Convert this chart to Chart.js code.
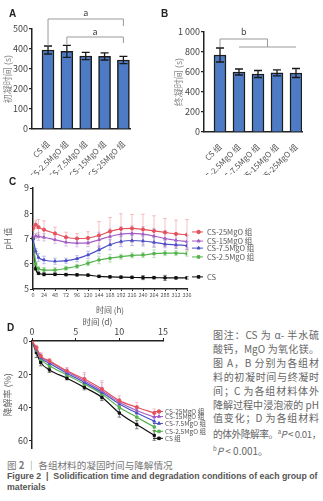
<!DOCTYPE html>
<html>
<head>
<meta charset="utf-8">
<script src="https://cdn.jsdelivr.net/npm/chart.js@4"></script>
<style>
body { margin: 0; width: 323px; height: 501px; background: #fff; position: relative; overflow: hidden; font-family: "Noto Sans CJK SC", "Noto Sans", sans-serif; }
.box { position: absolute; }
.tag { position: absolute; font: bold 10px "Liberation Sans", sans-serif; color: #222; }
.note { position: absolute; left: 213px; top: 328px; width: 106px; font-size: 10px; line-height: 13.9px; color: #666; }
.note div { text-align: justify; text-align-last: justify; white-space: nowrap; }
.note div.tight { letter-spacing: -0.45px; font-size: 9.7px; }
.note div.last { text-align-last: left; }
.cap1 { position: absolute; left: 7px; top: 458px; font-size: 9.6px; color: #777; white-space: nowrap; }
.cap2 { position: absolute; left: 7px; top: 471px; font: bold 9px "Liberation Sans", sans-serif; color: #555; line-height: 11px; white-space: nowrap; transform-origin: 0 0; }
</style>
</head>
<body>
<div class="box" style="left:0;top:0;width:160px;height:175px"><canvas id="chartA"></canvas></div>
<div class="box" style="left:160px;top:0;width:163px;height:175px"><canvas id="chartB"></canvas></div>
<div class="box" style="left:0;top:175px;width:323px;height:140px"><canvas id="chartC"></canvas></div>
<div class="box" style="left:0;top:316px;width:210px;height:139px"><canvas id="chartD"></canvas></div>
<div class="tag" style="left:9px;top:8px">A</div>
<div class="tag" style="left:161px;top:8px">B</div>
<div class="tag" style="left:9px;top:176px">C</div>
<div class="tag" style="left:7px;top:322px">D</div>
<div class="note">
  <div>图注：CS 为 α- 半水硫</div>
  <div>酸钙，MgO 为氧化镁。</div>
  <div>图 A，B 分别为各组材</div>
  <div>料的初凝时间与终凝时</div>
  <div>间；C 为各组材料体外</div>
  <div>降解过程中浸泡液的 pH</div>
  <div>值变化；D 为各组材料</div>
  <div class="tight">的体外降解率。<sup style="font-size:6px">a</sup><i>P</i> &lt; 0.01，</div>
  <div class="last"><sup style="font-size:6px">b</sup><i>P</i> &lt; 0.001。</div>
</div>
<div class="cap1">图 <b>2</b> ｜ 各组材料的凝固时间与降解情况</div>
<div class="cap2" id="cap2">Figure 2 &nbsp;|&nbsp; Solidification time and degradation conditions of each group of<br>materials</div>
<script>
const FAMILY = '"Noto Sans CJK SC", "Noto Sans", sans-serif';
Chart.defaults.font.family = FAMILY;
Chart.defaults.color = '#555';
Chart.defaults.animation = false;

// A / B: setting times
const groups = ['CS 组', 'CS-2.5MgO 组', 'CS-7.5MgO 组', 'CS-15MgO 组', 'CS-25MgO 组'];
const initialSet = [395, 388, 365, 363, 345];
const initialSetErr = [20, 30, 18, 18, 18];
const finalSet = [770, 600, 580, 592, 590];
const finalSetErr = [70, 30, 35, 30, 45];

// C: pH of soaking solution
const hours = [0, 6, 12, 24, 48, 72, 96, 120, 144, 168, 192, 216, 240, 264, 288, 312, 336];
const ph25 = [7.4, 7.55, 7.45, 7.35, 7.2, 7.05, 7.0, 7.02, 7.12, 7.28, 7.38, 7.4, 7.36, 7.3, 7.24, 7.18, 7.15];
const ph15 = [7.05, 7.1, 7.08, 7.05, 6.95, 6.85, 6.82, 6.83, 6.95, 7.08, 7.17, 7.2, 7.17, 7.1, 7.0, 6.93, 6.88];
const ph75 = [7.0, 6.5, 6.25, 6.15, 6.1, 6.12, 6.2, 6.35, 6.55, 6.75, 6.88, 6.92, 6.9, 6.85, 6.78, 6.75, 6.72];
const ph25low = [7.0, 6.0, 5.8, 5.75, 5.75, 5.82, 5.9, 6.02, 6.15, 6.22, 6.28, 6.33, 6.35, 6.4, 6.42, 6.42, 6.4];
const phCS = [7.0, 5.8, 5.62, 5.58, 5.58, 5.57, 5.56, 5.55, 5.5, 5.48, 5.47, 5.46, 5.45, 5.45, 5.44, 5.44, 5.44];
const ph25Err = [0.1, 0.15, 0.3, 0.35, 0.25, 0.2, 0.2, 0.25, 0.55, 0.55, 0.6, 0.55, 0.6, 0.6, 0.55, 0.55, 0.6];
const ph15Err = [0.05, 0.1, 0.15, 0.15, 0.15, 0.15, 0.15, 0.15, 0.3, 0.3, 0.3, 0.3, 0.3, 0.3, 0.3, 0.25, 0.25];
const ph75Err = [0.05, 0.1, 0.15, 0.15, 0.12, 0.1, 0.12, 0.15, 0.15, 0.2, 0.2, 0.2, 0.2, 0.2, 0.15, 0.15, 0.15];
const ph25lowErr = [0.05, 0.1, 0.1, 0.1, 0.1, 0.08, 0.08, 0.1, 0.15, 0.15, 0.1, 0.1, 0.1, 0.15, 0.1, 0.1, 0.1];
const phCSErr = [0.05, 0.05, 0.05, 0.06, 0.05, 0.05, 0.05, 0.05, 0.05, 0.05, 0.05, 0.05, 0.08, 0.05, 0.1, 0.05, 0.05];

// D: degradation rate
const days = [0, 0.5, 1, 2, 4, 6, 8, 10, 12, 14];
const deg25 = [0, 4, 9, 12, 18, 23, 29, 36, 40, 43.5];
const deg15 = [0, 4.5, 9.5, 12.5, 18.5, 24, 30, 37, 42, 46];
const deg75 = [0, 5, 10, 13.5, 19.5, 25, 31, 38, 43.5, 48.5];
const deg25low = [0, 5.5, 11, 15, 20.5, 26, 32, 40, 46, 52];
const degCS = [0, 7, 13, 17.5, 22.5, 28, 34, 43.5, 50.5, 57];
const deg25Err = [0, 1.5, 2, 1.5, 2, 4, 5, 3, 3, 2.5];
const deg15Err = [0, 1.5, 2, 1.5, 2, 4, 5, 2.5, 2.5, 2.5];
const deg75Err = [0, 1.5, 2, 1.5, 1.5, 3, 3, 2.5, 2.5, 2.5];
const deg25lowErr = [0, 2, 2, 1.5, 1.5, 2.5, 3, 3, 3, 3];
const degCSErr = [0, 3, 2, 1.5, 1, 1.5, 2, 2.5, 2.5, 3];

const RED = '#E5525C', PURPLE = '#A45EC6', BLUE = '#4C50C8', GREEN = '#55B44D', BLACK = '#111';

function drawErrors(chart) {
    const ctx = chart.ctx;
    chart.data.datasets.forEach((ds, di) => {
        if (!ds.errors) return;
        const meta = chart.getDatasetMeta(di);
        const ys = chart.scales[meta.yAxisID];
        ctx.save();
        ctx.strokeStyle = ds.errorColor || '#111';
        ctx.lineWidth = ds.errorWidth || 1;
        meta.data.forEach((el, i) => {
            const v = ds.data[i].y;
            const e = ds.errors[i];
            if (!e) return;
            const top = ys.getPixelForValue(v + e), bot = ys.getPixelForValue(v - e);
            const cap = ds.errorCap || 2;
            ctx.beginPath();
            ctx.moveTo(el.x, top); ctx.lineTo(el.x, bot);
            ctx.moveTo(el.x - cap, top); ctx.lineTo(el.x + cap, top);
            ctx.moveTo(el.x - cap, bot); ctx.lineTo(el.x + cap, bot);
            ctx.stroke();
        });
        ctx.restore();
    });
}

const errorBars = {
    id: 'errorBars',
    beforeDatasetsDraw(chart) { if (chart.config.type === 'line') drawErrors(chart); },
    afterDatasetsDraw(chart) { if (chart.config.type === 'bar') drawErrors(chart); }
};

// significance brackets, given in data units
const brackets = {
    id: 'brackets',
    afterDraw(chart, args, o) {
        if (!o.lines) return;
        const {ctx, scales: {x, y}} = chart;
        ctx.save();
        ctx.strokeStyle = '#999';
        ctx.lineWidth = 1;
        for (const line of o.lines) {
            ctx.beginPath();
            line.forEach(([px, py], i) => {
                const X = x.getPixelForValue(px), Y = y.getPixelForValue(py);
                if (i === 0) ctx.moveTo(X, Y); else ctx.lineTo(X, Y);
            });
            ctx.stroke();
        }
        ctx.fillStyle = '#444';
        ctx.font = '9px ' + FAMILY;
        ctx.textAlign = 'center';
        ctx.textBaseline = 'middle';
        for (const [t, px, py] of o.texts) ctx.fillText(t, x.getPixelForValue(px), y.getPixelForValue(py));
        ctx.restore();
    }
};

const sideLegend = {
    id: 'sideLegend',
    afterDraw(chart, args, o) {
        if (!o.at) return;
        const {ctx, chartArea} = chart;
        const ys = chart.scales.y;
        ctx.save();
        ctx.font = o.size + 'px ' + FAMILY;
        ctx.textBaseline = 'middle';
        chart.data.datasets.forEach((ds, i) => {
            const y = ys.getPixelForValue(o.at[i]);
            const x0 = chartArea.right + o.offset;
            ctx.strokeStyle = ds.borderColor;
            ctx.fillStyle = ds.borderColor;
            ctx.lineWidth = 1;
            ctx.beginPath(); ctx.moveTo(x0, y); ctx.lineTo(x0 + o.len, y); ctx.stroke();
            Chart.helpers.drawPoint(ctx, {pointStyle: ds.pointStyle, radius: 1.8, rotation: 0, borderWidth: 1}, x0 + o.len * 0.6, y);
            ctx.fillStyle = '#555';
            ctx.fillText(ds.label, x0 + o.len + o.gap, y);
        });
        ctx.restore();
    }
};

Chart.register(errorBars, brackets, sideLegend);

function buildBarChart(id, values, errors, o) {
    new Chart(document.getElementById(id), {
        type: 'bar',
        data: {
            datasets: [{
                data: values.map((v, i) => ({x: i, y: v})),
                errors,
                errorColor: '#1a1a1a',
                errorWidth: 1.3,
                errorCap: 4,
                backgroundColor: '#4E7BC6',
                borderColor: '#1c1c1c',
                borderWidth: 1.5,
                barThickness: 12
            }]
        },
        options: {
            responsive: true,
            maintainAspectRatio: false,
            layout: {padding: {top: o.top, right: o.right, left: 0, bottom: 0}},
            plugins: {
                legend: {display: false},
                tooltip: {enabled: false},
                brackets: o.brackets
            },
            scales: {
                x: {
                    type: 'linear',
                    min: o.xmin, max: o.xmax,
                    offset: false,
                    grid: {display: false, offset: false},
                    border: {color: '#222', width: 1.5},
                    afterBuildTicks: s => { s.ticks = groups.map((_, i) => ({value: i})); },
                    afterFit: s => { s.height = o.bottom; },
                    ticks: {
                        autoSkip: false, minRotation: 45, maxRotation: 45, padding: 2,
                        font: {size: 8}, color: '#555',
                        callback: v => groups[v]
                    }
                },
                y: {
                    min: 0, max: o.ymax,
                    afterFit: s => { s.width = o.axisWidth; },
                    grid: {drawOnChartArea: false, drawTicks: true, tickLength: 3, color: '#222', lineWidth: 1.2},
                    border: {color: '#222', width: 1.5},
                    ticks: {stepSize: o.step, font: {size: 9}, color: '#444', padding: 1,
                        callback: v => v >= 1000 ? '1 000' : v},
                    title: {display: true, text: o.title, color: '#888', font: {size: 9}, padding: {top: o.titlePad, bottom: 0}}
                }
            }
        }
    });
}

buildBarChart('chartA', initialSet, initialSetErr, {
    top: 29, right: 30, bottom: 46, axisWidth: 32, xmin: -0.85, xmax: 4.35,
    ymax: 500, step: 100, title: '初凝时间 (s)', titlePad: 2,
    brackets: {
        lines: [[[0, 415], [0, 550], [4, 550], [4, 515]], [[1, 425], [1, 460], [4, 460], [4, 430]]],
        texts: [['a', 2, 580], ['a', 2.5, 485]]
    }
});

buildBarChart('chartB', finalSet, finalSetErr, {
    top: 32, right: 21, bottom: 43, axisWidth: 44, xmin: -0.842, xmax: 4.316,
    ymax: 1000, step: 200, title: '终凝时间 (s)', titlePad: 13,
    brackets: {
        lines: [[[0, 850], [0, 930], [2.5, 930], [2.5, 850]], [[1, 850], [4, 850]]],
        texts: [['b', 1.25, 1000]]
    }
});

function lineSet(label, xs, ys, errs, color, errColor, style) {
    return {
        label,
        data: xs.map((x, i) => ({x, y: ys[i]})),
        errors: errs,
        errorColor: errColor,
        errorWidth: 0.8,
        errorCap: 1.8,
        borderColor: color,
        backgroundColor: color,
        borderWidth: 1.2,
        pointStyle: style,
        pointRadius: 1.6,
        pointBorderWidth: 1,
        cubicInterpolationMode: 'monotone'
    };
}

new Chart(document.getElementById('chartC'), {
    type: 'line',
    data: {
        datasets: [
            lineSet('CS-25MgO 组', hours, ph25, ph25Err, RED, 'rgba(229,82,92,0.45)', 'circle'),
            lineSet('CS-15MgO 组', hours, ph15, ph15Err, PURPLE, 'rgba(164,94,198,0.45)', 'triangle'),
            lineSet('CS-7.5MgO 组', hours, ph75, ph75Err, BLUE, 'rgba(76,80,200,0.45)', 'triangle'),
            lineSet('CS-2.5MgO 组', hours, ph25low, ph25lowErr, GREEN, 'rgba(85,180,77,0.5)', 'rect'),
            lineSet('CS', hours, phCS, phCSErr, BLACK, 'rgba(0,0,0,0.6)', 'rect')
        ]
    },
    options: {
        responsive: true,
        maintainAspectRatio: false,
        layout: {padding: {top: 13, right: 136, left: 0, bottom: 0}},
        plugins: {
            legend: {display: false},
            tooltip: {enabled: false},
            sideLegend: {at: [7.26, 6.9, 6.62, 6.27, 5.48], offset: 5, len: 11, gap: 4, size: 7.5}
        },
        scales: {
            x: {
                type: 'linear', min: 0, max: 336,
                afterFit: s => { s.height = 26; },
                grid: {drawOnChartArea: false, drawTicks: true, tickLength: 2, color: '#222'},
                border: {color: '#222', width: 1.5},
                ticks: {stepSize: 24, font: {size: 5.5}, color: '#555', padding: 1, maxRotation: 0, autoSkip: false},
                title: {display: true, text: '时间 (h)', font: {size: 8}, color: '#555', padding: {top: 0, bottom: 0}}
            },
            y: {
                min: 5, max: 9,
                afterFit: s => { s.width = 33; },
                grid: {drawOnChartArea: false, drawTicks: true, tickLength: 3, color: '#222'},
                border: {color: '#222', width: 1.5},
                ticks: {stepSize: 1, font: {size: 9}, color: '#444', padding: 1},
                title: {display: true, text: 'pH 值', font: {size: 8.5}, color: '#666', padding: {top: 3, bottom: 0}}
            }
        }
    }
});

new Chart(document.getElementById('chartD'), {
    type: 'line',
    data: {
        datasets: [
            lineSet('CS-25MgO 组', days, deg25, deg25Err, RED, 'rgba(229,82,92,0.4)', 'circle'),
            lineSet('CS-15MgO 组', days, deg15, deg15Err, PURPLE, 'rgba(164,94,198,0.4)', 'triangle'),
            lineSet('CS-7.5MgO 组', days, deg75, deg75Err, BLUE, 'rgba(76,80,200,0.4)', 'triangle'),
            lineSet('CS-2.5MgO 组', days, deg25low, deg25lowErr, GREEN, 'rgba(85,180,77,0.45)', 'rect'),
            lineSet('CS 组', days, degCS, degCSErr, BLACK, 'rgba(0,0,0,0.6)', 'rect')
        ]
    },
    options: {
        responsive: true,
        maintainAspectRatio: false,
        layout: {padding: {top: 0, right: 47, left: 0, bottom: 5.6}},
        plugins: {
            legend: {display: false},
            tooltip: {enabled: false},
            sideLegend: {at: [42.6, 45.6, 49.8, 54.6, 58.8], offset: -10, len: 10, gap: 2, size: 6.5}
        },
        scales: {
            x: {
                type: 'linear', position: 'top', min: 0, max: 15,
                afterFit: s => { s.height = 25; },
                grid: {drawOnChartArea: false, drawTicks: true, tickLength: 3, color: '#222'},
                border: {color: '#222', width: 1.5},
                ticks: {stepSize: 5, font: {size: 9}, color: '#444', padding: 1, maxRotation: 0},
                title: {display: true, text: '时间 (d)', font: {size: 8.5}, color: '#555', padding: {top: 1, bottom: 0}}
            },
            y: {
                reverse: true, min: 0, max: 65,
                afterFit: s => { s.width = 32; },
                grid: {drawOnChartArea: false, drawTicks: true, tickLength: 3, color: '#222'},
                border: {color: '#222', width: 1.5},
                ticks: {stepSize: 20, includeBounds: false, font: {size: 9}, color: '#444', padding: 1},
                title: {display: true, text: '降解率 (%)', font: {size: 9}, color: '#666', padding: {top: 2, bottom: 0}}
            }
        }
    }
});

// squeeze the English caption's first line to the reference width
const cap2 = document.getElementById('cap2');
cap2.style.transform = 'scaleX(' + Math.min(1, 311 / cap2.scrollWidth) + ')';
</script>
</body>
</html>
